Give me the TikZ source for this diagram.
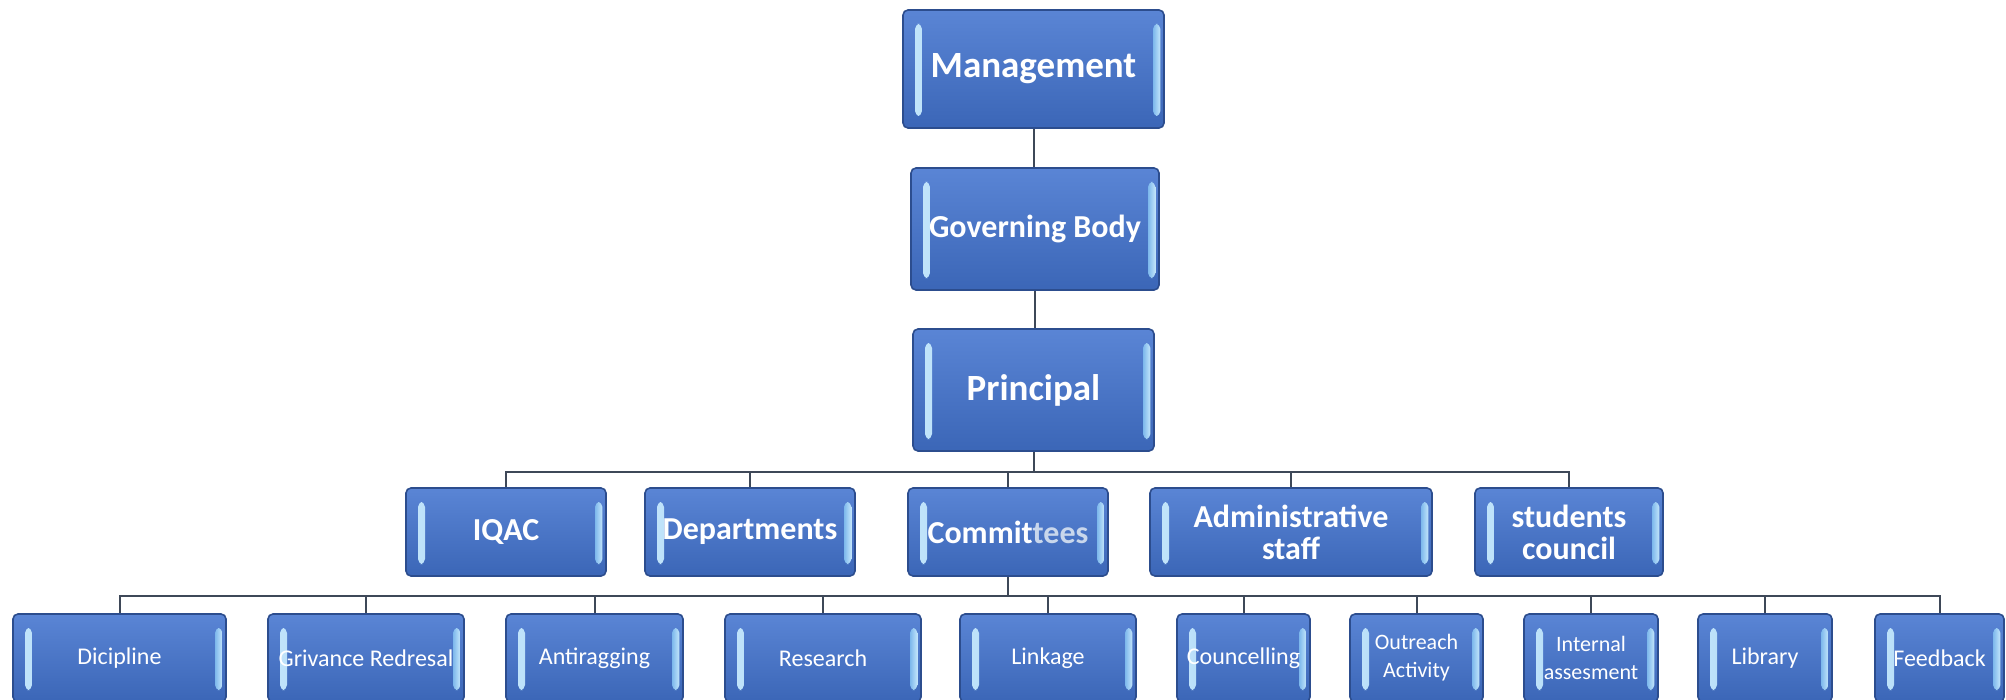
\documentclass[tikz,border=0pt]{standalone}
\usepackage{fontspec}
\setmainfont{Carlito}
\definecolor{boxtop}{HTML}{5A85D5}
\definecolor{boxbot}{HTML}{3B66B7}
\definecolor{boxedge}{HTML}{2C4D8E}
\definecolor{barA}{HTML}{7DB8EC}
\definecolor{barB}{HTML}{C4E6FB}
\definecolor{conncol}{HTML}{3E4858}
\definecolor{teecol}{HTML}{C9D7EC}
\tikzset{
  orgbox/.style={rectangle, rounded corners=2.5pt, draw=boxedge, line width=0.8pt,
    top color=boxtop, bottom color=boxbot, text=white, align=center, inner sep=0pt,
    path picture={
      \shade[left color=barB, right color=barA]
        ([xshift=6pt,yshift=-7pt]path picture bounding box.north west) rectangle
        ([xshift=9.5pt,yshift=6pt]path picture bounding box.south west);
      \shade[left color=barA, right color=barB]
        ([xshift=-5.5pt,yshift=-7pt]path picture bounding box.north east) rectangle
        ([xshift=-1.8pt,yshift=6pt]path picture bounding box.south east);
    }},
  bigtxt/.style={font=\fontsize{18.5}{21}\selectfont\bfseries},
  midtxt/.style={font=\fontsize{16}{16}\selectfont\bfseries},
  smalltxt/.style={font=\fontsize{12}{14}\selectfont},
  tinytxt/.style={font=\fontsize{11}{14}\selectfont},
  lvltwo/.style={orgbox, midtxt, minimum height=44pt},
  lvlthree/.style={orgbox, minimum height=44pt},
  conn/.style={draw=conncol, line width=1pt}
}
\begin{document}
\begin{tikzpicture}[x=0.5pt,y=-0.5pt]
\useasboundingbox (0,0) rectangle (2006,700);
\fill[white] (0,0) rectangle (2006,700);

% top column
\node[orgbox, bigtxt, minimum width=130.5pt, minimum height=59pt] (mgmt) at (1033.5,69) {Management};
\node[orgbox, midtxt, minimum width=124pt, minimum height=61pt] (gov) at (1035,229) {Governing Body};
\node[orgbox, bigtxt, minimum width=120.5pt, minimum height=61pt] (prin) at (1033.5,390) {Principal};

% level two
\node[lvltwo, minimum width=100pt] (iqac) at (506,532) {IQAC};
\node[lvltwo, minimum width=105pt] (dept) at (750,532) {Departments};
\node[lvltwo, minimum width=100pt] (comm) at (1008,532) {Commit\textcolor{teecol}{tees}};
\node[lvltwo, minimum width=141pt] (admin) at (1291,532) {Administrative\\staff};
\node[lvltwo, minimum width=94pt] (stud) at (1569,532) {students\\council};

% level three
\node[lvlthree, smalltxt, minimum width=106.5pt] (dic) at (119.5,658) {Dicipline};
\node[lvlthree, smalltxt, minimum width=98pt] (griv) at (366,658) {Grivance Redresal};
\node[lvlthree, smalltxt, minimum width=88.5pt] (anti) at (594.5,658) {Antiragging};
\node[lvlthree, smalltxt, minimum width=98pt] (res) at (823,658) {Research};
\node[lvlthree, smalltxt, minimum width=88pt] (link) at (1048,658) {Linkage};
\node[lvlthree, smalltxt, minimum width=66.5pt] (coun) at (1243.5,658) {Councelling};
\node[lvlthree, tinytxt, minimum width=66.5pt] (outr) at (1416.5,658) {Outreach\\Activity};
\node[lvlthree, tinytxt, minimum width=67pt] (intl) at (1591,658) {Internal\\assesment};
\node[lvlthree, smalltxt, minimum width=67pt] (lib) at (1765,658) {Library};
\node[lvlthree, smalltxt, minimum width=64.5pt] (feed) at (1939.5,658) {Feedback};

% connectors
\draw[conn] (mgmt.south) -- (mgmt.south |- gov.north);
\draw[conn] (gov.south) -- (gov.south |- prin.north);
\path (prin.south) ++(0,20) coordinate (bus1);
\draw[conn] (prin.south) -- (bus1);
\foreach \c in {iqac,dept,comm,admin,stud}{
  \draw[conn] (bus1) -| (\c.north);
}
\path (comm.south) ++(0,19) coordinate (bus2);
\draw[conn] (comm.south) -- (bus2);
\foreach \c in {dic,griv,anti,res,link,coun,outr,intl,lib,feed}{
  \draw[conn] (bus2) -| (\c.north);
}
\end{tikzpicture}
\end{document}
